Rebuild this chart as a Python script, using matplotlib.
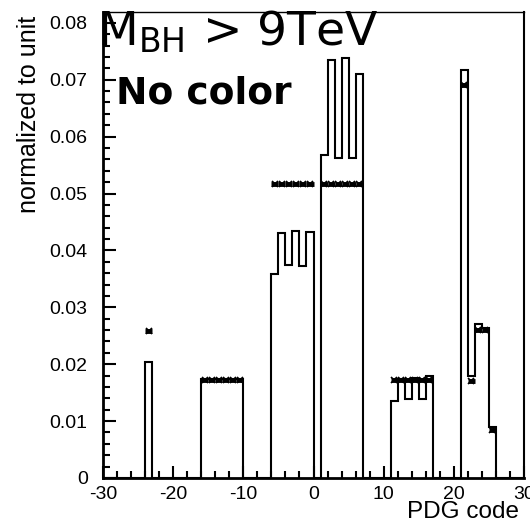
import numpy as np
import matplotlib
matplotlib.use("Agg")
import matplotlib.pyplot as plt
from matplotlib.ticker import MultipleLocator

# PDG codes and normalized fractions (step histogram)
hist_codes = [-24,
              -16, -15, -14, -13, -12, -11,
              -6, -5, -4, -3, -2, -1,
              1, 2, 3, 4, 5, 6,
              11, 12, 13, 14, 15, 16,
              21, 22, 23, 24, 25]
hist_vals = [0.0203,
             0.0174, 0.0174, 0.0174, 0.0174, 0.0174, 0.0174,
             0.0359, 0.0430, 0.0374, 0.0434, 0.0372, 0.0432,
             0.0568, 0.0735, 0.0562, 0.0738, 0.0562, 0.0710,
             0.0136, 0.0174, 0.0138, 0.0176, 0.0138, 0.0179,
             0.0717, 0.0180, 0.0270, 0.0263, 0.0089]

# second sample drawn as markers
mark_codes = hist_codes
mark_vals = [0.0258,
             0.0173, 0.0173, 0.0173, 0.0173, 0.0173, 0.0173,
             0.0516, 0.0516, 0.0516, 0.0516, 0.0516, 0.0516,
             0.0516, 0.0516, 0.0516, 0.0516, 0.0516, 0.0516,
             0.0173, 0.0173, 0.0173, 0.0173, 0.0173, 0.0173,
             0.0691, 0.0170, 0.0260, 0.0260, 0.0085]

edges = np.arange(-30, 31, 1)
counts = np.zeros(60)
for c, v in zip(hist_codes, hist_vals):
	counts[c + 30] = v

fig = plt.figure(figsize=(5.30, 5.22), dpi=100)
ax = fig.add_axes([103/530, 1-478/522, 421/530, 466/522])

ax.stairs(counts, edges, color='black', lw=1.5)

mx = np.array(mark_codes) + 0.5
ax.errorbar(mx, mark_vals, xerr=0.5, fmt='none', ecolor='black', elinewidth=3.5)
ax.plot(mx, mark_vals, ls='none', marker='x', ms=4, mew=1.2, color='black')

ax.set_xlim(-30, 30)
ax.set_ylim(0, 0.0819)

ax.xaxis.set_major_locator(MultipleLocator(10))
ax.xaxis.set_minor_locator(MultipleLocator(2))
ax.yaxis.set_minor_locator(MultipleLocator(0.002))
ax.tick_params(which='both', direction='in', top=False, right=False, width=1.5)
ax.tick_params(which='major', length=9, labelsize=14)
ax.tick_params(which='minor', length=5)
ax.tick_params(axis='y', which='major', pad=11)
ax.tick_params(axis='x', which='major', pad=6)
ax.set_yticks(np.arange(0, 0.081, 0.01))
ax.set_yticklabels(['0'] + ['%.2f' % v for v in np.arange(0.01, 0.081, 0.01)],
	family='Liberation Sans')
ax.set_xticklabels(['%d' % v for v in ax.get_xticks()], family='Liberation Sans')

for side in ['left', 'bottom']:
	ax.spines[side].set_linewidth(2)
ax.spines['top'].set_linewidth(1)
ax.spines['right'].set_linewidth(1.5)

fig.text(29/530, 1-114/522, 'normalized to unit', rotation=90, ha='center', va='center',
	fontsize=18, family='Liberation Sans')
fig.text(407/530, 1-518.5/522, 'PDG code', ha='left', va='baseline',
	fontsize=17.5, family='Liberation Sans')

fig.text(97/530, 1-45/522, r'$\mathregular{M_{BH}}$ > 9TeV', fontsize=34,
	va='baseline', ha='left', family='DejaVu Sans')
fig.text(116/530, 1-103/522, 'No color', fontsize=27, fontweight='bold',
	va='baseline', ha='left', family='DejaVu Sans')

fig.savefig('out.png', dpi=100)
